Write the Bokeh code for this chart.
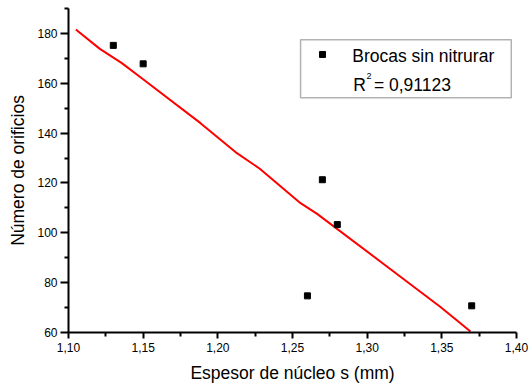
from bokeh.plotting import figure
from bokeh.models import Range1d, FixedTicker, Label, BoxAnnotation
from bokeh.embed import file_html
from bokeh.resources import INLINE

# ---- data ----
pts_x = [1.13, 1.15, 1.26, 1.27, 1.28, 1.37]
pts_y = [175.2, 167.8, 74.7, 121.3, 103.3, 70.7]

fit_x = [1.1049, 1.1210, 1.1355, 1.1482, 1.1884, 1.2118, 1.2281, 1.2554, 1.2665, 1.3212, 1.3491, 1.3692]
fit_y = [181.6, 173.8, 168.2, 162.4, 144.0, 132.4, 125.7, 111.9, 107.6, 82.9, 70.2, 60.4]

x_ticks = [1.10, 1.15, 1.20, 1.25, 1.30, 1.35, 1.40]
x_tick_labels = ["1,10", "1,15", "1,20", "1,25", "1,30", "1,35", "1,40"]
x_minor = [1.125, 1.175, 1.225, 1.275, 1.325, 1.375]
y_ticks = [60, 80, 100, 120, 140, 160, 180]
y_tick_labels = ["60", "80", "100", "120", "140", "160", "180"]
y_minor = [70, 90, 110, 130, 150, 170, 190]

series_name = "Brocas sin nitrurar"
r2_text = "= 0,91123"
x_title = "Espesor de núcleo s (mm)"
y_title = "Número de orificios"

FONT = "Liberation Sans"

p = figure(frame_width=448, frame_height=324,
           min_border_left=68, min_border_right=14, min_border_top=8, min_border_bottom=53,
           x_range=Range1d(1.10, 1.40), y_range=Range1d(60, 190),
           output_backend="svg", toolbar_location=None)
p.outline_line_color = None
p.xgrid.visible = False
p.ygrid.visible = False
p.background_fill_color = "white"
p.border_fill_color = "white"

p.xaxis.ticker = FixedTicker(ticks=x_ticks, minor_ticks=x_minor)
p.yaxis.ticker = FixedTicker(ticks=y_ticks, minor_ticks=y_minor)
p.xaxis.major_label_overrides = dict(zip(x_ticks, x_tick_labels))
p.yaxis.major_label_overrides = dict(zip(y_ticks, y_tick_labels))

for ax in (p.xaxis[0], p.yaxis[0]):
    ax.axis_line_width = 2
    ax.axis_line_color = "black"
    ax.major_tick_line_width = 2
    ax.minor_tick_line_width = 2
    ax.major_tick_line_color = "black"
    ax.minor_tick_line_color = "black"
    ax.major_tick_in = 0
    ax.minor_tick_in = 0
    ax.minor_tick_out = 4
    ax.major_label_text_font = FONT
    ax.major_label_text_font_size = "12px"
    ax.major_label_text_color = "black"
    ax.axis_label_text_font = FONT
    ax.axis_label_text_font_size = "17.5px"
    ax.axis_label_text_font_style = "normal"
    ax.axis_label_text_color = "black"

p.xaxis.major_tick_out = 6
p.yaxis.major_tick_out = 8
p.xaxis.major_label_standoff = 4
p.yaxis.major_label_standoff = 3
p.xaxis.axis_label_standoff = 8
p.yaxis.axis_label_standoff = 6
p.xaxis.axis_label = x_title
p.yaxis.axis_label = y_title

p.line(fit_x, fit_y, line_color="#FF0000", line_width=2)
p.scatter(pts_x, pts_y, marker="square", size=6, fill_color="black", line_color="black", line_width=1)

# legend box
p.add_layout(BoxAnnotation(left=1.2554, right=1.3965, bottom=154.18, top=177.45,
                           fill_color=None, fill_alpha=0, line_color="black", line_width=1.5))
p.scatter([1.2701], [171.56], marker="square", size=6, fill_color="black", line_color="black")
p.add_layout(Label(x=1.2900, y=170.9, text=series_name, text_font=FONT,
                   text_font_size="17.5px", text_color="black", text_baseline="middle"))
p.add_layout(Label(x=1.2907, y=159.28, text="R", text_font=FONT,
                   text_font_size="17.5px", text_color="black", text_baseline="middle"))
p.add_layout(Label(x=1.2996, y=163.05, text="2", text_font=FONT,
                   text_font_size="9px", text_color="black", text_baseline="middle"))
p.add_layout(Label(x=1.3045, y=159.28, text=r2_text, text_font=FONT,
                   text_font_size="17.5px", text_color="black", text_baseline="middle"))

open("out.html", "w").write(file_html(p, INLINE))
